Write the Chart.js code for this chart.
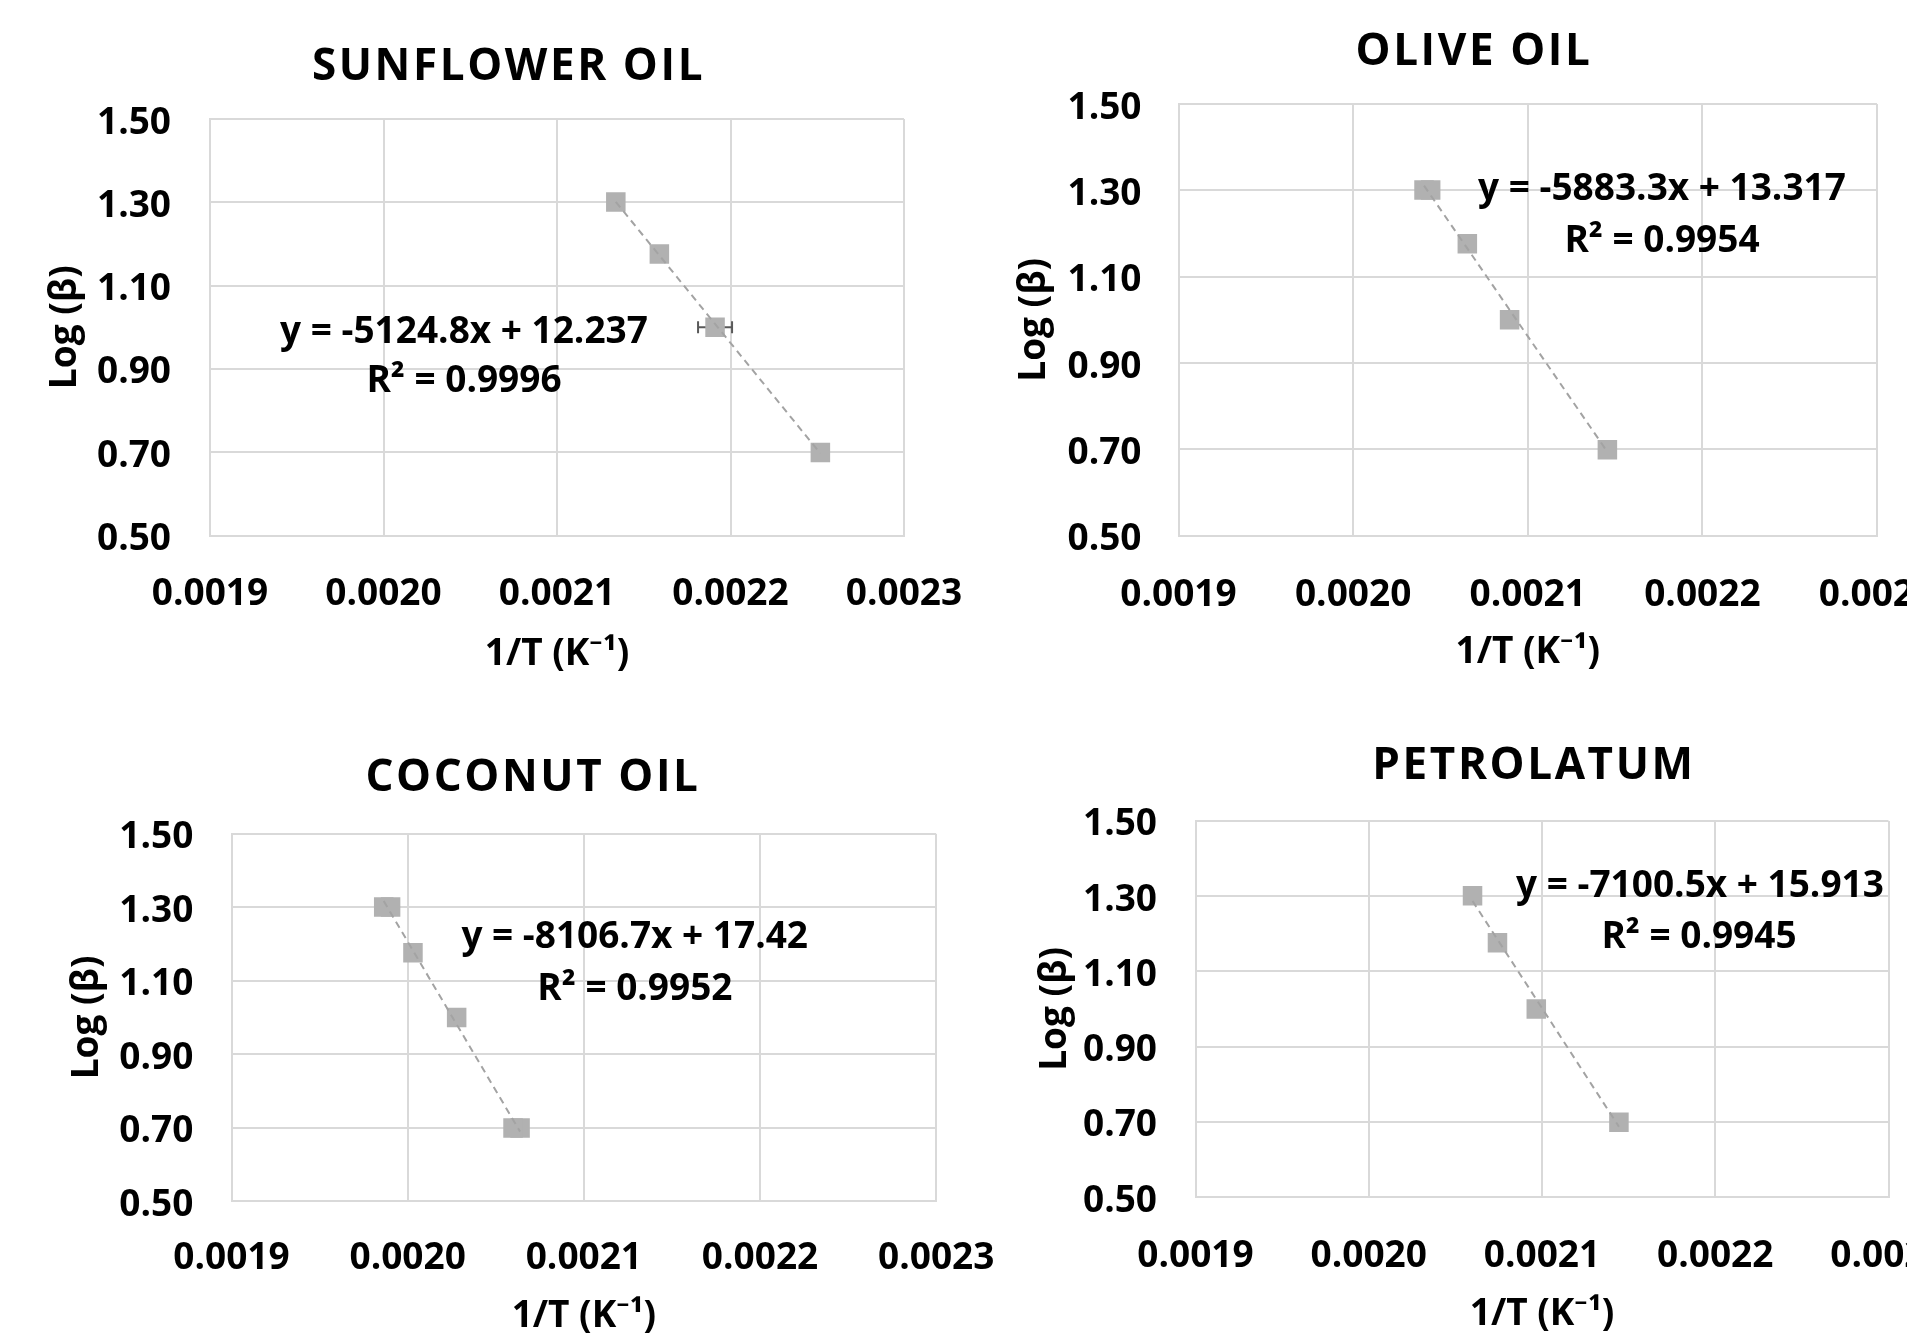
<!DOCTYPE html>
<html>
<head>
<meta charset="utf-8">
<script src="https://cdn.jsdelivr.net/npm/chart.js@4.4.1/dist/chart.umd.min.js"></script>
<style>
html,body{margin:0;padding:0;background:#ffffff;overflow:hidden;width:1907px;height:1336px;}
canvas{position:absolute;left:0;top:0;}
</style>
</head>
<body>
<canvas id="c1" width="1907" height="1336"></canvas>
<canvas id="c2" width="1907" height="1336"></canvas>
<canvas id="c3" width="1907" height="1336"></canvas>
<canvas id="c4" width="1907" height="1336"></canvas>
<script>
// ---------- data ----------
const xTickValues = [0.0019, 0.0020, 0.0021, 0.0022, 0.0023];
const xTickLabels = ['0.0019', '0.0020', '0.0021', '0.0022', '0.0023'];
const yTickValues = [0.50, 0.70, 0.90, 1.10, 1.30, 1.50];
const yTickLabels = ['0.50', '0.70', '0.90', '1.10', '1.30', '1.50'];

const logBeta = [1.301, 1.176, 1.000, 0.699];

const sunflowerX = [0.0021339, 0.0021590, 0.0021911, 0.0022518];
const sunflowerXErr = [0, 0, 0.0000098, 0];
const sunflowerTrendX = [0.0021339, 0.0022518];
const sunflowerTrendY = [1.301, 0.697];

const oliveX = [0.0020406, 0.0020654, 0.0020896, 0.0021456];
const oliveRepX = [0.0020444];
const oliveRepY = [1.301];
const oliveTrendX = [0.0020406, 0.0021456];
const oliveTrendY = [1.311, 0.694];

const coconutX = [0.0019864, 0.0020030, 0.0020278, 0.0020598];
const coconutRepX = [0.0019903, 0.0020638];
const coconutRepY = [1.301, 0.699];
const coconutTrendX = [0.0019864, 0.0020638];
const coconutTrendY = [1.317, 0.689];

const petrolatumX = [0.0020599, 0.0020743, 0.0020967, 0.0021444];
const petrolatumTrendX = [0.0020599, 0.0021444];
const petrolatumTrendY = [1.287, 0.687];

const titles = ['SUNFLOWER OIL', 'OLIVE OIL', 'COCONUT OIL', 'PETROLATUM'];
const equations = ['y = -5124.8x + 12.237', 'y = -5883.3x + 13.317', 'y = -8106.7x + 17.42', 'y = -7100.5x + 15.913'];
const r2Labels = ['R² = 0.9996', 'R² = 0.9954', 'R² = 0.9952', 'R² = 0.9945'];
const xAxisTitle = '1/T (K⁻¹)';
const yAxisTitle = 'Log (β)';

// ---------- styles ----------
const FAMILY = "'Open Sans', 'Noto Sans', 'DejaVu Sans', sans-serif";
const tickFont = {family: FAMILY, size: 37, weight: 'bold'};
const markerColor = '#b1b1b1';
const trendColor = '#a3a3a3';
const gridColor = '#d9d9d9';

const pts = (xs, ys) => xs.map((x, i) => ({x: x, y: ys[i]}));

// ---------- plugins ----------
const freeText = {
  id: 'freeText',
  afterDraw(chart, args, opts) {
    const ctx = chart.ctx;
    (opts.items || []).forEach(it => {
      ctx.save();
      ctx.font = it.font;
      ctx.fillStyle = '#000000';
      ctx.textAlign = 'center';
      ctx.textBaseline = 'alphabetic';
      if ('letterSpacing' in ctx) ctx.letterSpacing = it.spacing || '0px';
      ctx.fillText(it.text, it.x, it.y);
      ctx.restore();
    });
  }
};

const xErrorBars = {
  id: 'xErrorBars',
  beforeDatasetsDraw(chart, args, opts) {
    const ctx = chart.ctx;
    const xs = chart.scales.x, ys = chart.scales.y;
    chart.data.datasets.forEach(ds => {
      if (!ds.xErr) return;
      ds.data.forEach((p, i) => {
        const e = ds.xErr[i];
        if (!e) return;
        const a = xs.getPixelForValue(p.x - e);
        const b = xs.getPixelForValue(p.x + e);
        const py = ys.getPixelForValue(p.y);
        const h = opts.cap / 2;
        ctx.save();
        ctx.strokeStyle = opts.color;
        ctx.lineWidth = opts.width;
        ctx.beginPath();
        ctx.moveTo(a, py); ctx.lineTo(b, py);
        ctx.moveTo(a, py - h); ctx.lineTo(a, py + h);
        ctx.moveTo(b, py - h); ctx.lineTo(b, py + h);
        ctx.stroke();
        ctx.restore();
      });
    });
  }
};

// ---------- layout per chart ----------
const layouts = [
  {L: 210, R: 904, T: 119, B: 535.5, yTitleX: 65, yTickPad: 39, xTickPad: 37, xTitleY: 654.3,
   title: [508.5, 80], eq: [464, 342.8], r2: [464, 392.3]},
  {L: 1178.5, R: 1877, T: 104, B: 535.6, yTitleX: 1034.6, yTickPad: 37, xTickPad: 37.9, xTitleY: 652.6,
   title: [1474, 65], eq: [1662, 200.3], r2: [1662, 251.5]},
  {L: 231.5, R: 936.2, T: 833.9, B: 1201, yTitleX: 87, yTickPad: 38.2, xTickPad: 35.3, xTitleY: 1316.6,
   title: [533, 791], eq: [634.7, 948], r2: [634.9, 1000.2]},
  {L: 1195.5, R: 1888.5, T: 820.9, B: 1197, yTitleX: 1055.8, yTickPad: 38.5, xTickPad: 37.3, xTitleY: 1314.6,
   title: [1534, 779], eq: [1700, 897], r2: [1699, 948]}
];

function makeChart(id, idx, datasets) {
  const lay = layouts[idx];
  const lh = tickFont.size * 1.2;
  const padL = lay.yTitleX - lh / 2;
  const yWidth = lay.L - padL;
  const xHeight = lay.xTitleY + lh / 2 - lay.B;
  return new Chart(document.getElementById(id), {
    type: 'scatter',
    data: {datasets: datasets},
    plugins: [freeText, xErrorBars],
    options: {
      responsive: false,
      animation: false,
      events: [],
      layout: {padding: {left: padL, top: lay.T, right: 1907 - lay.R, bottom: 1336 - lay.B - xHeight}},
      plugins: {
        legend: {display: false},
        tooltip: {enabled: false},
        xErrorBars: {color: '#595959', width: 2, cap: 12},
        freeText: {items: [
          {text: titles[idx], x: lay.title[0], y: lay.title[1], font: 'bold 44px ' + FAMILY, spacing: '2.6px'},
          {text: equations[idx], x: lay.eq[0], y: lay.eq[1], font: 'bold 37px ' + FAMILY},
          {text: r2Labels[idx], x: lay.r2[0], y: lay.r2[1], font: 'bold 37px ' + FAMILY}
        ]}
      },
      scales: {
        x: {
          type: 'linear', position: 'bottom', min: 0.0019, max: 0.0023,
          afterBuildTicks: s => { s.ticks = xTickValues.map(v => ({value: v})); },
          ticks: {callback: (v, i) => xTickLabels[i], font: tickFont, color: '#000000', padding: lay.xTickPad,
                  maxRotation: 0, minRotation: 0, autoSkip: false},
          grid: {color: gridColor, lineWidth: 2, drawTicks: false},
          border: {color: gridColor, width: 2},
          title: {display: true, text: xAxisTitle, font: tickFont, color: '#000000', padding: 0},
          afterFit: s => { s.height = xHeight; s.paddingLeft = 0; s.paddingRight = 0; }
        },
        y: {
          type: 'linear', position: 'left', min: 0.5, max: 1.5,
          afterBuildTicks: s => { s.ticks = yTickValues.map(v => ({value: v})); },
          ticks: {callback: (v, i) => yTickLabels[i], font: tickFont, color: '#000000', padding: lay.yTickPad,
                  labelOffset: 4, autoSkip: false},
          grid: {color: gridColor, lineWidth: 2, drawTicks: false},
          border: {color: gridColor, width: 2},
          title: {display: true, text: yAxisTitle, font: tickFont, color: '#000000', padding: 0},
          afterFit: s => { s.width = yWidth; s.paddingTop = 0; s.paddingBottom = 0; }
        }
      }
    }
  });
}

function trendSet(xs, ys) {
  return {data: pts(xs, ys), showLine: true, borderColor: trendColor, borderWidth: 2,
          borderDash: [7, 5], pointRadius: 0, fill: false};
}
function markerSet(xs, ys, err) {
  const ds = {data: pts(xs, ys), pointStyle: 'rect', pointRadius: 13.8, pointBorderWidth: 0,
              backgroundColor: markerColor, borderColor: markerColor, showLine: false};
  if (err) ds.xErr = err;
  return ds;
}

makeChart('c1', 0, [
  trendSet(sunflowerTrendX, sunflowerTrendY),
  markerSet(sunflowerX, logBeta, sunflowerXErr)
]);
makeChart('c2', 1, [
  trendSet(oliveTrendX, oliveTrendY),
  markerSet(oliveX, logBeta),
  markerSet(oliveRepX, oliveRepY)
]);
makeChart('c3', 2, [
  trendSet(coconutTrendX, coconutTrendY),
  markerSet(coconutX, logBeta),
  markerSet(coconutRepX, coconutRepY)
]);
makeChart('c4', 3, [
  trendSet(petrolatumTrendX, petrolatumTrendY),
  markerSet(petrolatumX, logBeta)
]);
</script>
</body>
</html>
